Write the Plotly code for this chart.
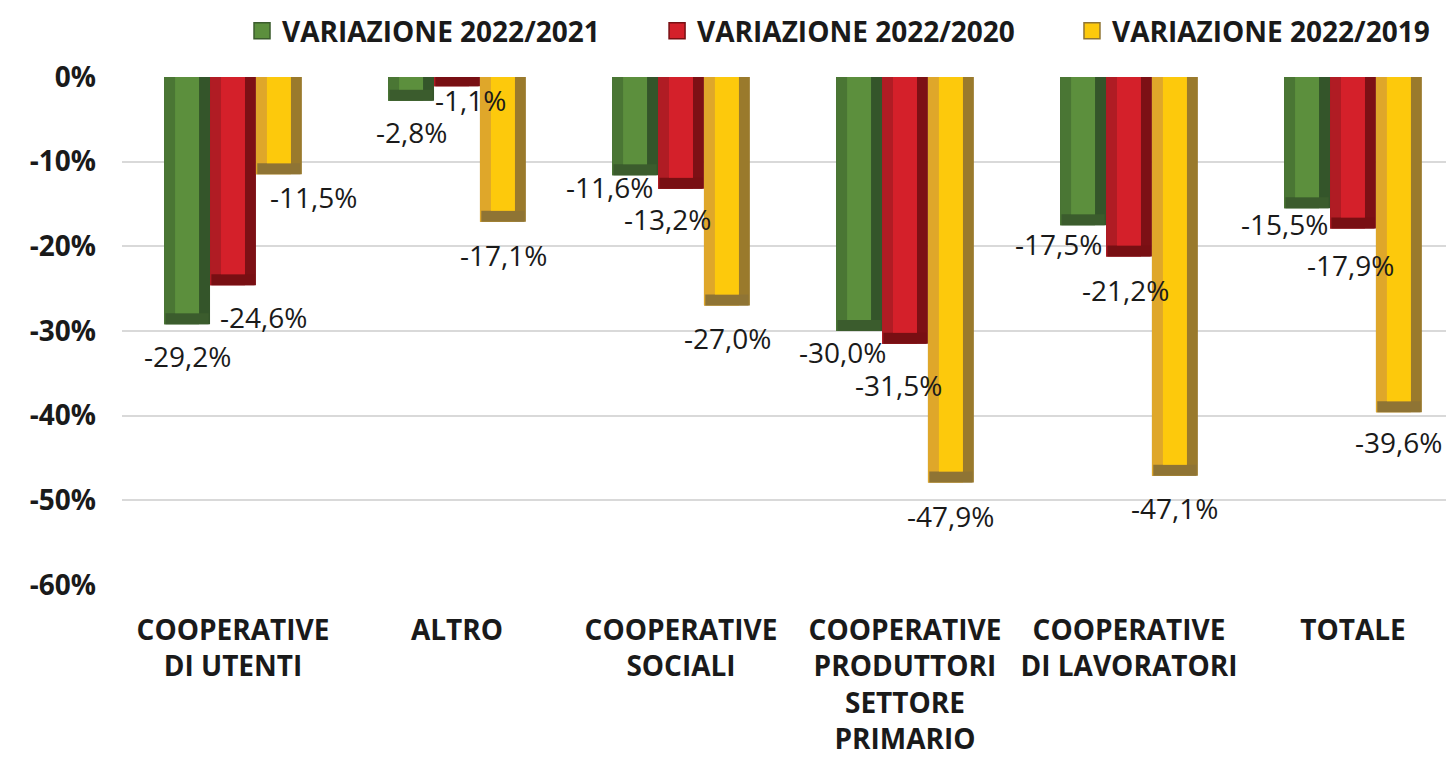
import plotly.graph_objects as go

# ---------------- data ----------------
categories = ["COOPERATIVE<br>DI UTENTI", "ALTRO", "COOPERATIVE<br>SOCIALI",
              "COOPERATIVE<br>PRODUTTORI<br>SETTORE<br>PRIMARIO",
              "COOPERATIVE<br>DI LAVORATORI", "TOTALE"]
series_names = ["VARIAZIONE 2022/2021", "VARIAZIONE 2022/2020", "VARIAZIONE 2022/2019"]
var_2021 = [-29.2, -2.8, -11.6, -30.0, -17.5, -15.5]
var_2020 = [-24.6, -1.1, -13.2, -31.5, -21.2, -17.9]
var_2019 = [-11.5, -17.1, -27.0, -47.9, -47.1, -39.6]
tick_values = [0, -10, -20, -30, -40, -50, -60]
tick_labels = ["0%", "-10%", "-20%", "-30%", "-40%", "-50%", "-60%"]

# ---------------- style ----------------
# (face, left bevel, right bevel, bottom bevel)
palettes = [
    ("#5C8F3D", "#4A7634", "#34552A", "#3B5C2D"),
    ("#D4202A", "#B01C24", "#7D1015", "#780F13"),
    ("#FDC90C", "#DFA72A", "#9A7A2C", "#8F7434"),
]
# label offsets in px (dx, dy below bar end)
label_dx = [[0, 0, -26, -17, -25, -23],
            [31, 14, -13, -6, -3, -2],
            [35, 1, 1, 0, 0, 0]]
label_dy = [[32, 31, 12, 21, 19, 16],
            [32, 14, 30, 41, 34, 36],
            [23, 33, 32, 33, 32, 30]]
legend_x = [0.0901, 0.4017, 0.7132]
legend_ids = ["legend", "legend2", "legend3"]

FONT = "Open Sans"
bar_w = 0.205     # bar width in category units
bevel_w = 0.049   # side bevel width
bevel_d = 1.3     # bottom bevel depth (percentage points)

x_pos = list(range(len(categories)))
all_series = [var_2021, var_2020, var_2019]

fig = go.Figure()
for s, vals in enumerate(all_series):
    face, left, right, bottom = palettes[s]
    off = (s - 1.5) * bar_w
    n = len(vals)
    # full bar (right bevel colour)
    fig.add_trace(go.Bar(x=x_pos, y=vals, width=[bar_w] * n, offset=[off] * n,
                         marker=dict(color=right, line=dict(width=0)),
                         showlegend=False, hoverinfo="skip"))
    # left bevel
    fig.add_trace(go.Bar(x=x_pos, y=vals, width=[bar_w - bevel_w] * n, offset=[off] * n,
                         marker=dict(color=left, line=dict(width=0)),
                         showlegend=False, hoverinfo="skip"))
    # bottom bevel
    bb = [min(v + bevel_d, 0) for v in vals]
    fig.add_trace(go.Bar(x=x_pos, y=[v - b for v, b in zip(vals, bb)], base=bb,
                         width=[bar_w - 0.012] * n, offset=[off + 0.006] * n,
                         marker=dict(color=bottom, line=dict(width=0)),
                         showlegend=False, hoverinfo="skip"))
    # face
    fig.add_trace(go.Bar(x=x_pos, y=bb, width=[bar_w - 2 * bevel_w] * n,
                         offset=[off + bevel_w] * n, name=series_names[s],
                         marker=dict(color=face, line=dict(width=0)),
                         showlegend=False, hoverinfo="skip"))
    # legend entry
    fig.add_trace(go.Scatter(x=[None], y=[None], mode="markers", name=series_names[s],
                             legend=legend_ids[s],
                             marker=dict(symbol="square", size=16, color=face,
                                         line=dict(width=1.5, color=bottom))))
    # labels
    for i, v in enumerate(vals):
        fig.add_annotation(x=i + off + bar_w / 2, y=v,
                           text=f"{v:.1f}%".replace(".", ","),
                           showarrow=False, xanchor="center", yanchor="middle",
                           xshift=label_dx[s][i], yshift=-label_dy[s][i],
                           font=dict(family=FONT, size=28, color="#1a1a1a"))

leg_common = dict(orientation="h", xanchor="left", yref="container", y=0.9698,
                  yanchor="middle", bgcolor="rgba(0,0,0,0)",
                  font=dict(family=FONT, size=28, weight="bold", color="#1a1a1a"))
fig.update_layout(
    width=1446, height=761,
    barmode="overlay",
    plot_bgcolor="white", paper_bgcolor="white",
    margin=dict(l=114, r=0, t=69, b=184),
    font=dict(family=FONT, color="#1a1a1a"),
    showlegend=True,
    legend=dict(x=legend_x[0], **leg_common),
    legend2=dict(x=legend_x[1], **leg_common),
    legend3=dict(x=legend_x[2], **leg_common),
)
fig.update_xaxes(range=[-0.4955, 5.451], tickvals=x_pos, ticktext=categories,
                 showgrid=False, zeroline=False, ticks="", showline=False, automargin=False,
                 tickfont=dict(family=FONT, size=28, weight="bold"), ticklabelstandoff=26)
fig.update_yaxes(range=[-60, 0], tickvals=tick_values, ticktext=tick_labels,
                 showgrid=True, gridcolor="#d9d9d9", gridwidth=2, zeroline=False,
                 ticks="", showline=False, automargin=False,
                 tickfont=dict(family=FONT, size=28, weight="bold"), ticklabelstandoff=25)

fig.write_html("out.html")
